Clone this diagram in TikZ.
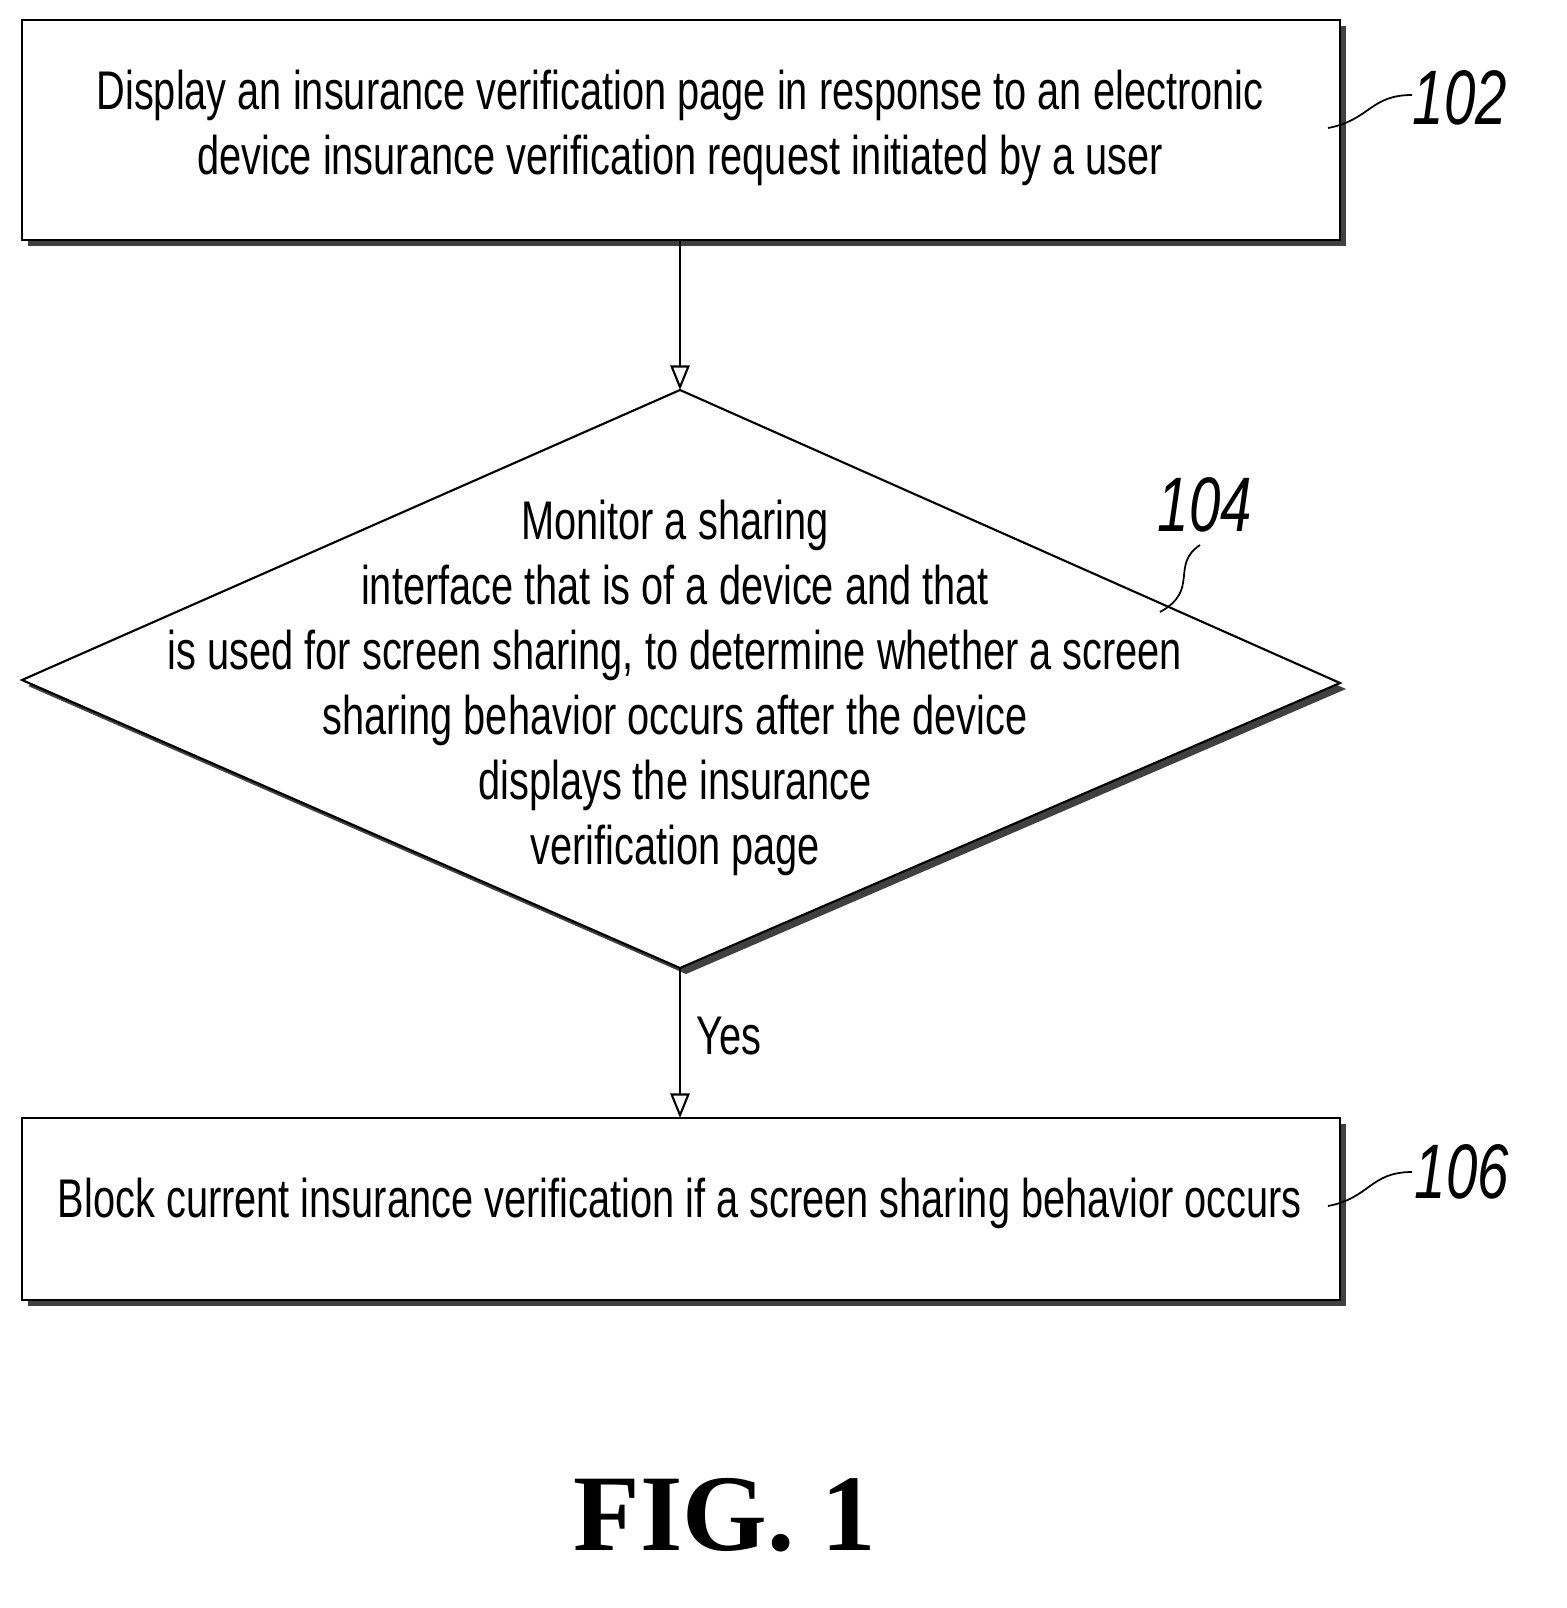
\documentclass[tikz,border=0pt]{standalone}
\usepackage{fontspec}
\setmainfont{Liberation Sans}
\newfontfamily\narrowf[FakeStretch=0.73]{Liberation Sans}
\newfontfamily\figf{Liberation Serif}
\usetikzlibrary{arrows.meta}
\begin{document}
\begin{tikzpicture}[x=0.02cm,y=-0.02cm,
  shp/.style={draw=black,line width=1.2pt,fill=white},
  shadow/.style={fill=black!75,draw=none},
  txt/.style={font=\narrowf\fontsize{31}{37}\selectfont,align=center},
  lbl/.style={font=\narrowf\itshape\fontsize{44}{50}\selectfont},
  arr/.style={line width=1.2pt,-{Triangle[length=14pt,width=11pt,open]}},
  lead/.style={line width=1pt}]
\useasboundingbox (0,0) rectangle (1566,1608);
% shadows
\fill[shadow] (28,26) rectangle (1346,246);
\fill[shadow] (28,1124) rectangle (1346,1306);
\fill[shadow] (686,396) -- (1346,689) -- (686,974) -- (28,686) -- cycle;
% shapes
\draw[shp] (22,20) rectangle (1340,240);
\draw[shp] (22,1118) rectangle (1340,1300);
\draw[shp] (680,390) -- (1340,683) -- (680,968) -- (22,680) -- cycle;
\coordinate (b1) at (680,240);
\coordinate (dt) at (680,390);
\coordinate (db) at (680,968);
\coordinate (b2) at (680,1118);
\node[txt] (t1) at (680,128) {Display an insurance verification page in response to an electronic\\device insurance verification request initiated by a user};
\node[txt] (t2) at (675,688) {Monitor a sharing\\interface that is of a device and that\\is used for screen sharing, to determine whether a screen\\sharing behavior occurs after the device\\displays the insurance\\verification page};
\node[txt] (t3) at (680,1203) {Block current insurance verification if a screen sharing behavior occurs};
\draw[arr] (b1) -- (dt);
\draw[arr] (db) -- (b2);
\node[txt,anchor=west] (yes) at (690,1036) {Yes};
\node[lbl] (l102) at (1460,98) {102};
\node[lbl] (l104) at (1205,505) {104};
\node[lbl] (l106) at (1462,1172) {106};
\draw[lead] (1328,128) .. controls (1370,120) and (1370,95) .. (1412,95);
\draw[lead] (1328,1206) .. controls (1370,1198) and (1370,1172) .. (1412,1172);
\draw[lead] (1160,612) .. controls (1200,590) and (1170,565) .. (1200,545);
\node[font=\figf\bfseries\fontsize{62}{70}\selectfont] (fig) at (725,1515) {FIG. 1};
\end{tikzpicture}
\end{document}
